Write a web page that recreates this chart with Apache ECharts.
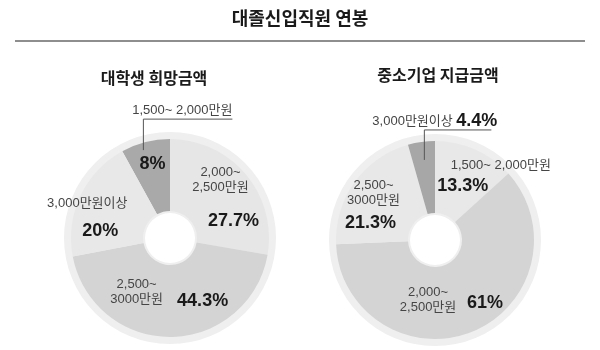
<!DOCTYPE html>
<html>
<head>
<meta charset="utf-8">
<script src="https://cdn.jsdelivr.net/npm/echarts@6/dist/echarts.min.js"></script>
<style>
  html, body { margin: 0; padding: 0; background: #fff; }
  #chart { width: 600px; height: 350px; }
</style>
</head>
<body>
<div id="chart"></div>
<script>
// Salary bands (만원) and the share of new hires in each band, in %
const bands = ['1,500~ 2,000만원', '2,000~\n2,500만원', '2,500~\n3000만원', '3,000만원이상'];
const studentHope = [8, 27.7, 44.3, 20];   // 대학생 희망금액
const smePay = [13.3, 61, 21.3, 4.4];      // 중소기업 지급금액

const mainTitle = '대졸신입직원 연봉';
const panelTitles = ['대학생 희망금액', '중소기업 지급금액'];

const LATIN_KR = "'Liberation Sans', 'Noto Sans CJK KR', sans-serif";
const KR = "'Noto Sans CJK KR', sans-serif";
const INNER_R = 27, OUTER_R = 99;

// Per-donut presentation: placement, shades, label nudges and the leader line
const panels = [
  {
    values: studentHope, title: panelTitles[0], center: [170, 238],
    titleX: 154, titleTop: 70,
    leadingSlices: 1,  // slices drawn to the left of 12 o'clock
    colors: ['#a9a9a9', '#e6e6e6', '#d4d4d4', '#e8e8e8'],
    pctShift: [[-1, -10], [13, 26], [32, -3], [-10, 21]],
    nameShift: [null, [0, -16], [-34, -12], [-23, -6]],
    leader: { index: 0, shiftX: -2, sink: 8, rise: 23, run: 89, overhang: 0, withValue: false }
  },
  {
    values: smePay, title: panelTitles[1], center: [435, 240],
    titleX: 438, titleTop: 67,
    leadingSlices: 0,
    colors: ['#e8e8e8', '#d4d4d4', '#e8e8e8', '#a7a7a7'],
    pctShift: [[1, 6], [25, 2], [-11, 22], null],
    nameShift: [[39, -14], [-32, -1], [-8, -8], null],
    leader: { index: 3, shiftX: 3, sink: 18, rise: 12, run: 67, overhang: 6, withValue: true }
  }
];

const pctRich = {
  p: { fontFamily: LATIN_KR, fontSize: 18, fontWeight: 'bold', color: '#1a1a1a' }
};

// Nudges the inside labels; the leader label is hung above an elbow line
function labelShifter(shifts, leader) {
  return function (params) {
    const i = params.dataIndex;
    if (leader && i === leader.index && params.labelLinePoints) {
      const x0 = params.labelLinePoints[0][0] + leader.shiftX;
      const y0 = params.labelLinePoints[0][1];
      const top = y0 - leader.rise;
      const end = x0 + leader.run;
      return {
        x: end + leader.overhang,
        y: top - 1,
        align: 'right',
        verticalAlign: 'bottom',
        labelLinePoints: [[x0, y0 + leader.sink], [x0, top], [end, top]]
      };
    }
    const s = shifts[i];
    return s ? { dx: s[0], dy: s[1] } : {};
  };
}

function panelSeries(p) {
  const total = p.values.reduce((a, b) => a + b, 0);
  const lead = p.values.slice(0, p.leadingSlices).reduce((a, b) => a + b, 0);
  const base = {
    type: 'pie',
    center: p.center,
    radius: [INNER_R, OUTER_R],
    startAngle: 90 + lead / total * 360,
    clockwise: true,
    avoidLabelOverlap: false,
    silent: true,
    animation: false
  };
  // shaded slices carrying the percentage labels
  const slices = Object.assign({}, base, {
    z: 2,
    data: p.values.map((v, i) => ({
      name: bands[i],
      value: v,
      itemStyle: { color: p.colors[i] },
      label: { show: !(p.leader.withValue && i === p.leader.index) }
    })),
    label: {
      position: 'inside', rotate: 0,
      formatter: d => `{p|${d.value}%}`,
      rich: pctRich
    },
    labelLine: { show: false },
    labelLayout: labelShifter(p.pctShift, null)
  });
  // same slices, unfilled, carrying the band names
  const names = Object.assign({}, base, {
    z: 3,
    itemStyle: { color: 'transparent' },
    data: p.values.map((v, i) => {
      const isLead = i === p.leader.index;
      return {
        name: bands[i],
        value: v,
        label: isLead ? { position: 'outside' } : {},
        labelLine: { show: isLead }
      };
    }),
    label: {
      position: 'inside', rotate: 0,
      fontFamily: LATIN_KR, fontSize: 13, lineHeight: 15, color: '#454545',
      formatter: d => (p.leader.withValue && d.dataIndex === p.leader.index)
        ? `${d.name} {p|${d.value}%}` : d.name,
      rich: pctRich
    },
    labelLine: { lineStyle: { color: '#555', width: 1 } },
    labelLayout: labelShifter(p.nameShift, p.leader)
  });
  return [slices, names];
}

const chart = echarts.init(document.getElementById('chart'), null, { renderer: 'canvas' });
chart.setOption({
  backgroundColor: '#ffffff',
  animation: false,
  title: [
    { text: mainTitle, left: 300, top: 9, textAlign: 'center', padding: 0,
      textStyle: { fontFamily: KR, fontSize: 18, fontWeight: 'bold', color: '#1a1a1a' } }
  ].concat(panels.map(p => ({
    text: p.title, left: p.titleX, top: p.titleTop, textAlign: 'center', padding: 0,
    textStyle: { fontFamily: KR, fontSize: 16, fontWeight: 'bold', color: '#1a1a1a' }
  }))),
  graphic: [
    { type: 'line', z: 0, shape: { x1: 15, y1: 41, x2: 585, y2: 41 },
      style: { stroke: '#8e8e8e', lineWidth: 2 } }
  ].concat(panels.map(p => ({
    type: 'ring', z: 0,
    shape: { cx: p.center[0], cy: p.center[1], r: OUTER_R + 7, r0: INNER_R - 2 },
    style: { fill: '#efefef' }
  }))),
  series: panels.flatMap(panelSeries)
});
</script>
</body>
</html>
